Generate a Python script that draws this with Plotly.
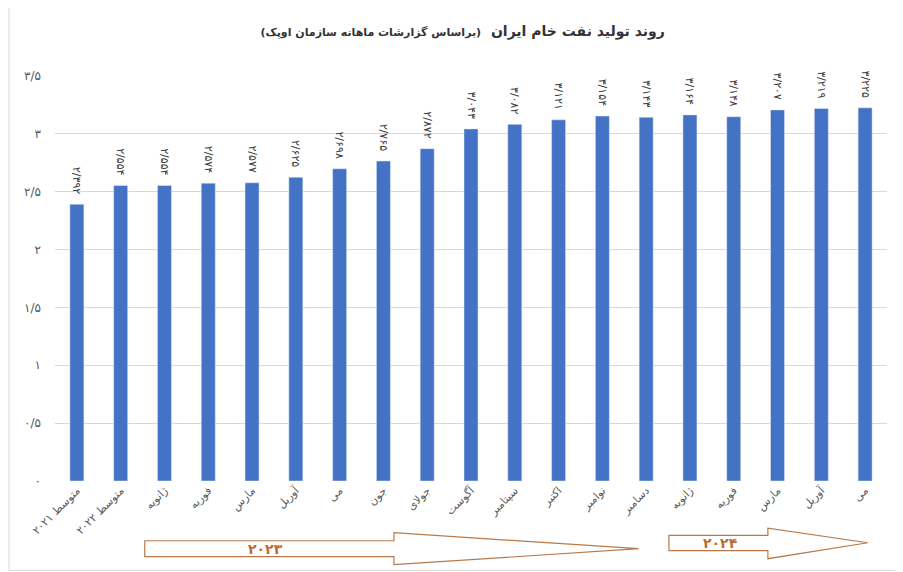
import plotly.graph_objects as go

# monthly crude output, million barrels per day (OPEC monthly report)
categories = ["متوسط ۲۰۲۱", "متوسط ۲۰۲۲", "ژانویه", "فوریه", "مارس", "آوریل", "می",
              "جون", "جولای", "آگوست", "سپتامبر", "اکتبر", "نوامبر", "دسامبر",
              "ژانویه", "فوریه", "مارس", "آوریل", "می"]
production = [2.392, 2.554, 2.554, 2.574, 2.577, 2.625, 2.698, 2.765, 2.872, 3.043,
              3.082, 3.121, 3.154, 3.143, 3.164, 3.148, 3.207, 3.219, 3.225]
y_ticks = [0, 0.5, 1, 1.5, 2, 2.5, 3, 3.5]

FA_DIGITS = str.maketrans("0123456789.", "۰۱۲۳۴۵۶۷۸۹/")


def fa(v, fmt):
    return format(v, fmt).translate(FA_DIGITS)


x_pos = list(range(len(categories)))
font_fa = "DejaVu Sans"
brown = "#B8794A"

# page body has an 8px margin, so the figure is 8px smaller than the window
W, H = 895, 564
ML, MT, PW, PH = 47, 68, 832, 405.5

fig = go.Figure()
fig.add_trace(go.Bar(
    x=x_pos, y=production,
    width=0.32,
    marker_color="#4472C4",
    # trailing nbsp keeps the rotated label a little clear of the bar
    text=[fa(v, ".3f") + "\u00a0\u00a0" for v in production],
    textposition="outside",
    textangle=90,
    constraintext="none",
    textfont=dict(family=font_fa, size=11, color="#404040"),
    cliponaxis=False,
))

fig.update_layout(
    width=W, height=H,
    margin=dict(l=ML, r=W - ML - PW, t=MT, b=H - MT - PH, pad=0),
    paper_bgcolor="white", plot_bgcolor="white",
    showlegend=False,
    font=dict(family=font_fa, color="#595959"),
    title=dict(
        text="<b>روند تولید نفت خام ایران  <span style='font-size:11px'>(براساس گزارشات ماهانه سازمان اوپک)</span></b>",
        x=0.508, xanchor="center", y=1 - 23 / H, yanchor="middle",
        font=dict(family=font_fa, size=14, color="#333333"),
    ),
)

fig.update_xaxes(
    range=[-0.5, len(categories) - 0.5],
    tickvals=x_pos, ticktext=categories,
    tickangle=-45, tickfont=dict(size=11, color="#595959"),
    showgrid=False, showline=False, ticks="",
)
fig.update_yaxes(
    range=[0, 3.5],
    tickvals=y_ticks, ticktext=[fa(v, "g") for v in y_ticks],
    tickfont=dict(size=12, color="#595959"),
    showgrid=True, gridcolor="#D9D9D9", gridwidth=1,
    zeroline=False, showline=False, ticks="",
    ticklabelstandoff=13,
)


def py(v):
    # reference pixel row -> paper y
    return (481.5 - v) / PH


def arrow_path(x0, x1, x2, yb0, yb1, yh0, yh1, ytip):
    return (f"M {x0} {py(yb0)} L {x1} {py(yb0)} L {x1} {py(yh0)} L {x2} {py(ytip)} "
            f"L {x1} {py(yh1)} L {x1} {py(yb1)} L {x0} {py(yb1)} Z")


# year arrows under the axis
fig.add_shape(type="path", xref="x", yref="paper",
              path=arrow_path(1.55, 7.24, 12.83, 541.3, 557.3, 533.3, 565.3, 549.3),
              line=dict(color=brown, width=1.2), fillcolor="rgba(0,0,0,0)")
fig.add_shape(type="path", xref="x", yref="paper",
              path=arrow_path(13.52, 15.78, 18.06, 536, 551.3, 528.7, 559.3, 543.3),
              line=dict(color=brown, width=1.2), fillcolor="rgba(0,0,0,0)")
fig.add_annotation(text="<b>۲۰۲۳</b>", xref="x", yref="paper", x=4.3, y=py(549.5),
                   yanchor="middle", showarrow=False,
                   font=dict(family=font_fa, size=14, color="#C0692F"))
fig.add_annotation(text="<b>۲۰۲۴</b>", xref="x", yref="paper", x=14.7, y=py(544),
                   yanchor="middle", showarrow=False,
                   font=dict(family=font_fa, size=14, color="#C0692F"))

# chart border
fig.add_shape(type="rect", xref="paper", yref="paper",
              x0=-(ML - 1) / PW, x1=(W - ML - 2) / PW, y0=py(571), y1=py(1),
              line=dict(color="#D9D9D9", width=1))

fig.write_html("out.html")
